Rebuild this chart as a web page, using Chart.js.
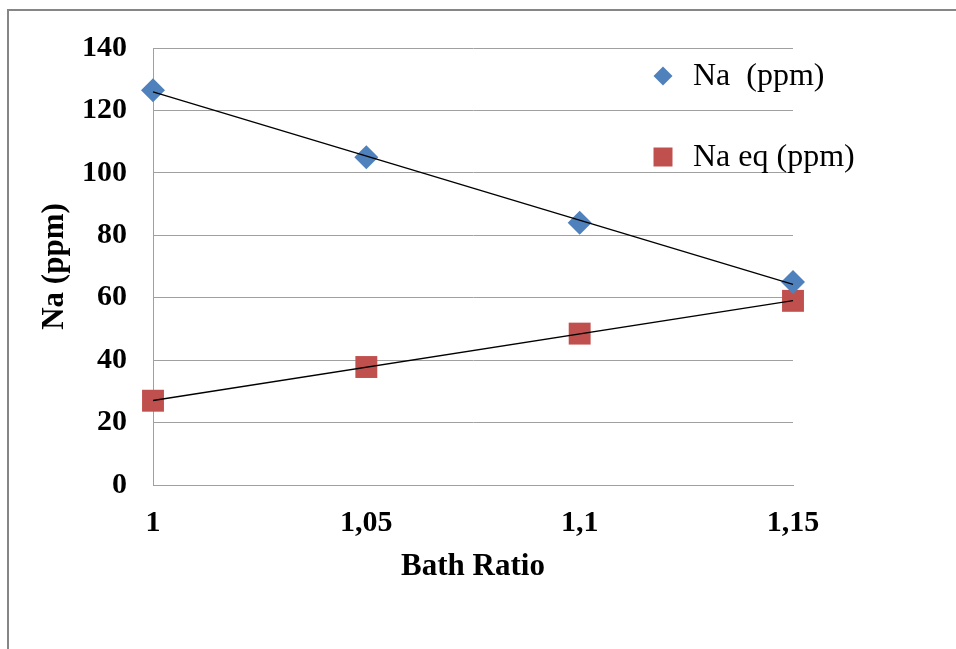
<!DOCTYPE html>
<html>
<head>
<meta charset="utf-8">
<script src="https://cdn.jsdelivr.net/npm/chart.js@4"></script>
<style>
  body { margin: 0; background: #fff; }
  #wrap { width: 956px; height: 649px; }
</style>
</head>
<body>
<div id="wrap"><canvas id="myChart" width="956" height="649"></canvas></div>
<script>
var xValues = [1, 1.05, 1.1, 1.15];
var tickLabels = ['1', '1,05', '1,1', '1,15'];
var naValues = [126.5, 105, 84, 65];
var naEqValues = [27, 37.8, 48.5, 59];
var seriesNames = ['Na  (ppm)', 'Na eq (ppm)'];
var seriesColors = ['#4f81bd', '#c0504d'];

// linear trend (least squares) through each series, like excel's trendline
function trend(ys) {
  var n = xValues.length, sx = 0, sy = 0, sxx = 0, sxy = 0;
  for (var i = 0; i < n; i++) {
    sx += xValues[i]; sy += ys[i];
    sxx += xValues[i] * xValues[i]; sxy += xValues[i] * ys[i];
  }
  var b = (n * sxy - sx * sy) / (n * sxx - sx * sx);
  var a = (sy - b * sx) / n;
  var first = xValues[0], last = xValues[n - 1];
  return [{x: first, y: a + b * first}, {x: last, y: a + b * last}];
}

function pts(ys) {
  return xValues.map(function(x, i) { return {x: x, y: ys[i]}; });
}

var frame = {
  id: 'frame',
  beforeDraw: function(chart) {
    var c = chart.ctx;
    c.save();
    c.strokeStyle = '#868686';
    c.lineWidth = 2;
    c.beginPath();
    c.moveTo(8, 649);
    c.lineTo(8, 10);
    c.lineTo(956, 10);
    c.stroke();
    c.restore();
  }
};

var legendBox = {
  id: 'legendBox',
  afterDraw: function(chart) {
    var c = chart.ctx;
    var ys = [76, 157];
    c.save();
    c.font = '32px "Liberation Serif"';
    c.textBaseline = 'middle';
    c.textAlign = 'left';
    for (var i = 0; i < seriesNames.length; i++) {
      c.fillStyle = seriesColors[i];
      c.beginPath();
      if (i === 0) {
        c.moveTo(663, ys[i] - 9.5);
        c.lineTo(672.5, ys[i]);
        c.lineTo(663, ys[i] + 9.5);
        c.lineTo(653.5, ys[i]);
        c.closePath();
      } else {
        c.rect(653.5, ys[i] - 9.5, 19, 19);
      }
      c.fill();
      c.fillStyle = '#000';
      c.fillText(seriesNames[i], 693, ys[i] + 1);
    }
    c.restore();
  }
};

var ctx = document.getElementById('myChart');
var myChart = new Chart(ctx, {
  type: 'scatter',
  data: {
    datasets: [
      {
        label: seriesNames[0],
        data: pts(naValues),
        pointStyle: 'rectRot',
        pointRadius: 12,
        pointHoverRadius: 12,
        backgroundColor: seriesColors[0],
        borderWidth: 0,
        clip: false,
        order: 1
      },
      {
        label: seriesNames[1],
        data: pts(naEqValues),
        pointStyle: 'rect',
        pointRadius: 15.5,
        pointHoverRadius: 15.5,
        backgroundColor: seriesColors[1],
        borderWidth: 0,
        clip: false,
        order: 1
      },
      {
        label: 'trend1',
        type: 'line',
        data: trend(naValues),
        borderColor: '#000',
        borderWidth: 1.3,
        pointRadius: 0,
        fill: false,
        clip: false,
        order: 0
      },
      {
        label: 'trend2',
        type: 'line',
        data: trend(naEqValues),
        borderColor: '#000',
        borderWidth: 1.3,
        pointRadius: 0,
        fill: false,
        clip: false,
        order: 0
      }
    ]
  },
  options: {
    responsive: false,
    animation: false,
    layout: { padding: { left: 0, right: 163, top: 48, bottom: 0 } },
    plugins: {
      legend: { display: false },
      tooltip: { enabled: false }
    },
    scales: {
      x: {
        type: 'linear',
        min: 1,
        max: 1.15,
        afterBuildTicks: function(s) {
          s.ticks = xValues.map(function(v) { return {value: v}; });
        },
        afterFit: function(s) { s.height = 164; },
        grid: { display: false, drawTicks: false },
        border: { display: true, color: '#a0a0a0', width: 1 },
        ticks: {
          padding: 20,
          color: '#000',
          font: { family: 'Liberation Serif', size: 30, weight: 'bold' },
          maxRotation: 0,
          callback: function(v, i) { return tickLabels[i]; }
        },
        title: {
          display: true,
          text: 'Bath Ratio',
          color: '#000',
          font: { family: 'Liberation Serif', size: 31, weight: 'bold' },
          padding: { top: 0, bottom: 63 }
        }
      },
      y: {
        min: 0,
        max: 140,
        afterFit: function(s) { s.width = 153; },
        grid: { color: '#a0a0a0', lineWidth: 1, drawTicks: false },
        border: { display: true, color: '#a0a0a0', width: 1 },
        ticks: {
          stepSize: 20,
          padding: 26,
          color: '#000',
          font: { family: 'Liberation Serif', size: 30, weight: 'bold' }
        },
        title: {
          display: true,
          text: 'Na (ppm)',
          color: '#000',
          font: { family: 'Liberation Serif', size: 31, weight: 'bold' },
          padding: { top: 36, bottom: 0 }
        }
      }
    }
  },
  plugins: [frame, legendBox]
});
</script>
</body>
</html>
